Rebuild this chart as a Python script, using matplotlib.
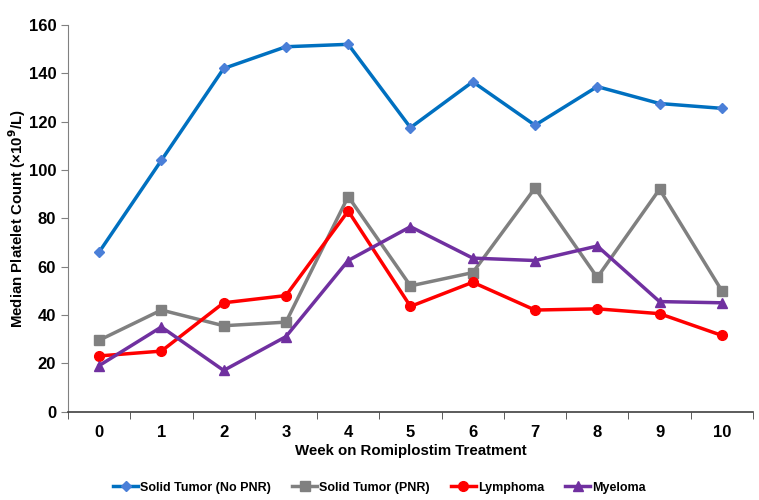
import numpy as np
import matplotlib
matplotlib.use("Agg")
import matplotlib.pyplot as plt

plt.rcParams["font.family"] = ["Liberation Sans", "DejaVu Sans"]
plt.rcParams["font.weight"] = "bold"

# Data
weeks = ["0", "1", "2", "3", "4", "5", "6", "7", "8", "9", "10"]
solid_no_pnr = [66, 104, 142, 151, 152, 117.5, 136.5, 118.5, 134.5, 127.5, 125.5]
solid_pnr = [29.5, 42, 35.5, 37, 89, 52, 57.5, 92.5, 55.5, 92, 50]
lymphoma = [23, 25, 45, 48, 83, 43.5, 53.5, 42, 42.5, 40.5, 31.5]
myeloma = [19, 35, 17, 31, 62.5, 76.5, 63.5, 62.5, 68.5, 45.5, 45]

x = np.arange(len(weeks))

fig = plt.figure(figsize=(7.59, 5), dpi=100)
ax = fig.add_axes([0.0896, 0.177, 0.9024, 0.773])

ax.plot(x, solid_no_pnr, color="#0070C0", lw=2.5, marker="D", ms=5.5,
        mfc="#4A7FD8", mec="#4A7FD8", label="Solid Tumor (No PNR)")
ax.plot(x, solid_pnr, color="#808080", lw=2.5, marker="s", ms=7,
        mfc="#808080", mec="#808080", label="Solid Tumor (PNR)")
ax.plot(x, lymphoma, color="#FF0000", lw=2.5, marker="o", ms=7,
        label="Lymphoma")
ax.plot(x, myeloma, color="#7030A0", lw=2.5, marker="^", ms=7,
        label="Myeloma")

ax.set_xlim(-0.5, len(weeks) - 0.5)
ax.set_ylim(0, 160)
ax.set_yticks(np.arange(0, 161, 20))
ax.set_xticks(x)
ax.set_xticklabels(weeks)
ax.set_xticks(np.arange(-0.5, len(weeks), 1), minor=True)
ax.tick_params(axis="x", which="major", length=0, pad=10, labelsize=12)
ax.tick_params(axis="x", which="minor", length=5, direction="out", color="#404040")
ax.tick_params(axis="y", length=5, direction="out", color="#808080", labelsize=12)

for s in ["top", "right"]:
    ax.spines[s].set_visible(False)
ax.spines["left"].set_color("#808080")
ax.spines["bottom"].set_color("#404040")
ax.spines["bottom"].set_linewidth(1.2)

ax.set_xlabel("Week on Romiplostim Treatment", fontsize=10.8, fontweight="bold")
ax.xaxis.set_label_coords(0.5, -0.085)
ax.set_ylabel("Median Platelet Count (\u00d710$^{\\mathbf{9}}$/L)", fontsize=10.8,
              fontweight="bold")
ax.yaxis.set_label_coords(-0.058, 0.5)

fig.legend(loc="lower center", bbox_to_anchor=(0.5, -0.01), ncol=4, frameon=False,
           fontsize=9, handlelength=2.0, columnspacing=1.7, handletextpad=0.15)

fig.savefig("out.png", dpi=100)
